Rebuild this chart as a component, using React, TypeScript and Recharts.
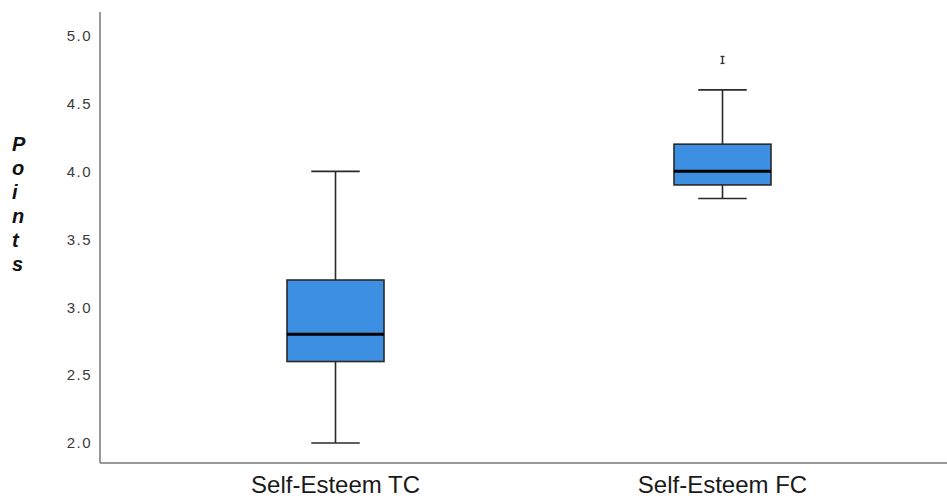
import React from 'react';
import { ComposedChart, Bar, Scatter, XAxis, YAxis } from 'recharts';

const categories = ['Self-Esteem TC', 'Self-Esteem FC'];
const mins = [2.0, 3.8];
const q1s = [2.6, 3.9];
const medians = [2.8, 4.0];
const q3s = [3.2, 4.2];
const maxs = [4.0, 4.6];
const outliers: (number | null)[] = [null, 4.82];
const yTicks = [2.0, 2.5, 3.0, 3.5, 4.0, 4.5, 5.0];
const yLabel = 'Points';

const data = categories.map((name, i) => ({
  name,
  range: [mins[i], maxs[i]],
  min: mins[i],
  q1: q1s[i],
  median: medians[i],
  q3: q3s[i],
  max: maxs[i],
  outlier: outliers[i],
}));

const BoxShape = (props: any) => {
  const { x, y, width, height, payload } = props;
  if (x == null || y == null) return null;
  const top = Math.min(y, y + height);
  const bottom = Math.max(y, y + height);
  const { min, max, q1, q3, median } = payload;
  const px = (v: number) => top + ((max - v) / (max - min)) * (bottom - top);
  const cx = x + width / 2;
  const capW = width / 2;
  const yq1 = px(q1);
  const yq3 = px(q3);
  const ymed = px(median);
  const stroke = '#2a2a2a';
  return (
    <g>
      <line x1={cx} x2={cx} y1={top} y2={yq3} stroke={stroke} strokeWidth={1.6} />
      <line x1={cx} x2={cx} y1={yq1} y2={bottom} stroke={stroke} strokeWidth={1.6} />
      <line x1={cx - capW / 2} x2={cx + capW / 2} y1={top} y2={top} stroke={stroke} strokeWidth={1.6} />
      <line x1={cx - capW / 2} x2={cx + capW / 2} y1={bottom} y2={bottom} stroke={stroke} strokeWidth={1.6} />
      <rect x={x} y={yq3} width={width} height={yq1 - yq3} fill="#3d8fe1" stroke={stroke} strokeWidth={1.6} />
      <line x1={x} x2={x + width} y1={ymed} y2={ymed} stroke="#000" strokeWidth={3} />
    </g>
  );
};

const OutlierShape = (props: any) => {
  const { cx, cy, payload } = props;
  if (payload == null || payload.outlier == null || cx == null || cy == null || isNaN(cy)) return null;
  const stroke = '#333';
  return (
    <g>
      <line x1={cx} x2={cx} y1={cy - 3.5} y2={cy + 3.5} stroke={stroke} strokeWidth={1.4} />
      <line x1={cx - 2} x2={cx + 2} y1={cy - 3.5} y2={cy - 3.5} stroke={stroke} strokeWidth={1.3} />
      <line x1={cx - 2} x2={cx + 2} y1={cy + 3.5} y2={cy + 3.5} stroke={stroke} strokeWidth={1.3} />
    </g>
  );
};

export default function App() {
  return (
    <div style={{ position: 'absolute', left: 0, top: 0, width: 947, height: 499, background: '#fff' }}>
      <ComposedChart
        width={947}
        height={499}
        data={data}
        margin={{ top: 12, right: 0, bottom: 0, left: 0 }}
      >
        <XAxis
          dataKey="name"
          type="category"
          height={36}
          padding={{ left: 42, right: 31 }}
          tickLine={false}
          tickSize={0}
          tickMargin={13}
          axisLine={{ stroke: '#777', strokeWidth: 1.5 }}
          tick={{ fill: '#1a1a1a', fontSize: 24, fontFamily: 'Liberation Sans, Arial, sans-serif' }}
        />
        <YAxis
          type="number"
          domain={[1.853, 5.173]}
          ticks={yTicks}
          interval={0}
          width={100}
          tickLine={false}
          tickSize={0}
          tickMargin={8}
          axisLine={{ stroke: '#777', strokeWidth: 1.5 }}
          tickFormatter={(v: number) => v.toFixed(1)}
          tick={{ fill: '#3a3a3a', fontSize: 15, fontFamily: 'Liberation Sans, Arial, sans-serif', letterSpacing: 1.5 }}
        />
        <Bar dataKey="range" barSize={97} shape={<BoxShape />} isAnimationActive={false} />
        <Scatter dataKey="outlier" shape={<OutlierShape />} isAnimationActive={false} />
      </ComposedChart>
      <div
        style={{
          position: 'absolute',
          left: 12,
          top: 132,
          fontFamily: 'Liberation Sans, Arial, sans-serif',
          fontWeight: 'bold',
          fontStyle: 'italic',
          fontSize: 20,
          lineHeight: '24px',
          color: '#111',
        }}
      >
        {yLabel.split('').map((c, i) => (
          <div key={i}>{c}</div>
        ))}
      </div>
    </div>
  );
}
